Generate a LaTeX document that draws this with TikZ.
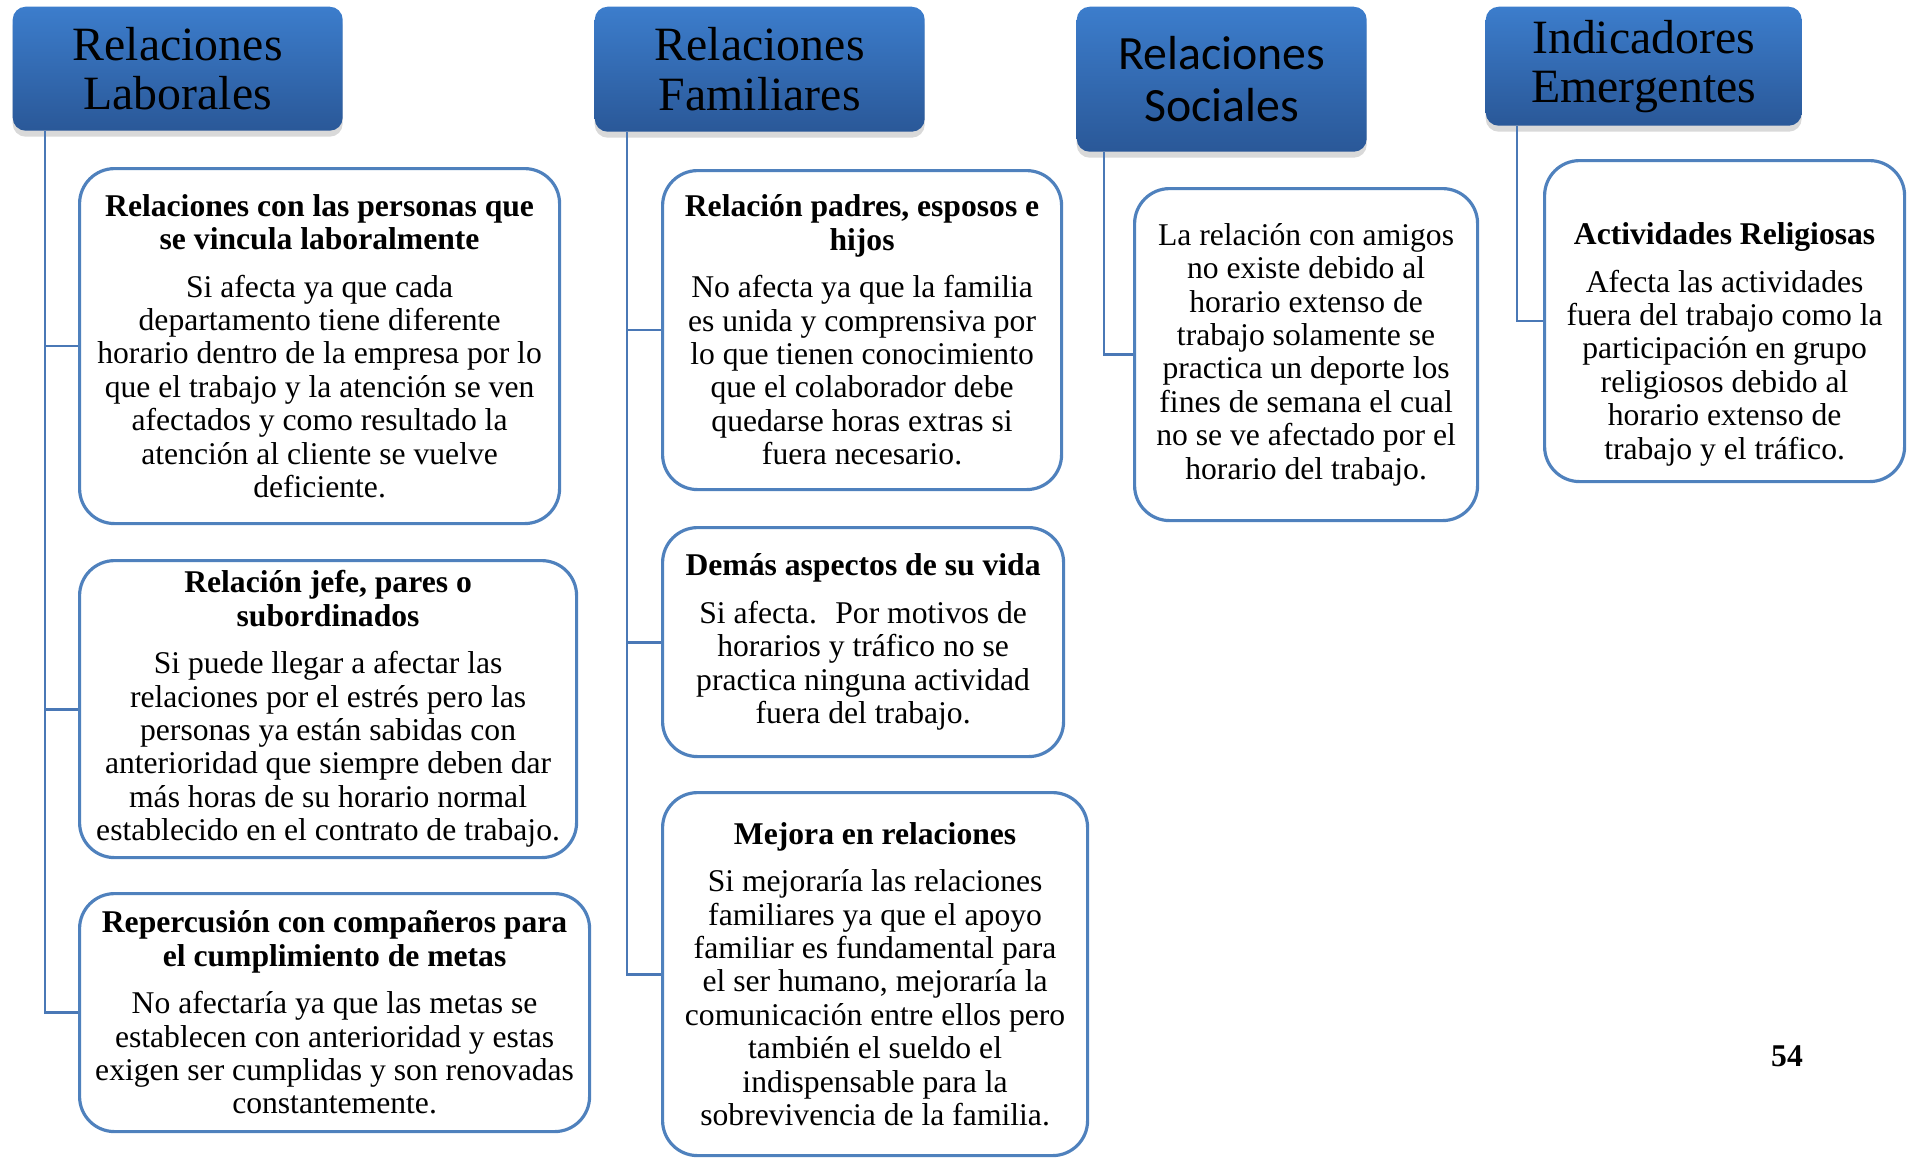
\documentclass[tikz,border=0pt]{standalone}
\usepackage{fontspec}
\setmainfont{Liberation Serif}
\newfontfamily\calibrifont{Carlito}
\usepackage{tikz}
\usetikzlibrary{shadows}
\definecolor{hdrtop}{RGB}{60,125,204}
\definecolor{hdrbot}{RGB}{42,88,152}
\definecolor{boxline}{RGB}{79,129,189}
\definecolor{linkline}{RGB}{74,120,182}

\begin{document}
\begin{tikzpicture}[y=-1cm,
  header/.style={rounded corners=0.13cm, top color=hdrtop, bottom color=hdrbot, anchor=north west, align=center, inner sep=0pt,
    font=\fontsize{13.6}{14}\selectfont, drop shadow={shadow xshift=0pt, shadow yshift=-0.06cm, opacity=0.3}},
  infobox/.style={draw=boxline, line width=0.9pt, rounded corners=0.35cm, fill=white, anchor=north west, align=center, inner sep=0pt,
    font=\fontsize{9}{9.5}\selectfont},
  link/.style={draw=linkline, line width=0.8pt}]
\useasboundingbox (0,0) rectangle (19.09,11.57);
% column headers
\node[header, minimum width=3.30cm, minimum height=1.24cm] (hlab) at (0.12,0.06) {Relaciones\\Laborales};
\node[header, minimum width=3.30cm, minimum height=1.25cm] (hfam) at (5.94,0.06) {Relaciones\\Familiares};
\node[header, minimum width=2.90cm, minimum height=1.45cm, font=\calibrifont\fontsize{13.6}{14.8}\selectfont] (hsoc) at (10.76,0.06) {Relaciones\\Sociales};
\node[header, minimum width=3.16cm, minimum height=1.19cm] (hind) at (14.85,0.06) {Indicadores\\Emergentes};
% laborales
\node[infobox, minimum width=4.80cm, minimum height=3.55cm] (lab1) at (0.78,1.67) {\textbf{Relaciones con las personas que}\\\textbf{se vincula laboralmente}\\[4pt]
  Si afecta ya que cada\\departamento tiene diferente\\horario dentro de la empresa por lo\\que el trabajo y la atención se ven\\afectados y como resultado la\\atención al cliente se vuelve\\deficiente.};
\node[infobox, minimum width=4.97cm, minimum height=2.97cm] (lab2) at (0.78,5.59) {\textbf{Relación jefe, pares o}\\\textbf{subordinados}\\[4pt]
  Si puede llegar a afectar las\\relaciones por el estrés pero las\\personas ya están sabidas con\\anterioridad que siempre deben dar\\más horas de su horario normal\\establecido en el contrato de trabajo.};
\node[infobox, minimum width=5.10cm, minimum height=2.38cm] (lab3) at (0.78,8.92) {\textbf{Repercusión con compañeros para}\\\textbf{el cumplimiento de metas}\\[4pt]
  No afectaría ya que las metas se\\establecen con anterioridad y estas\\exigen ser cumplidas y son renovadas\\constantemente.};
% familiares
\node[infobox, minimum width=3.99cm, minimum height=3.19cm] (fam1) at (6.61,1.69) {\textbf{Relación padres, esposos e}\\\textbf{hijos}\\[4pt]
  No afecta ya que la familia\\es unida y comprensiva por\\lo que tienen conocimiento\\que el colaborador debe\\quedarse horas extras si\\fuera necesario.};
\node[infobox, minimum width=4.01cm, minimum height=2.29cm] (fam2) at (6.61,5.26) {\textbf{Demás aspectos de su vida}\\[4pt]
  Si afecta.~ Por motivos de\\horarios y tráfico no se\\practica ninguna actividad\\fuera del trabajo.};
\node[infobox, minimum width=4.25cm, minimum height=3.63cm] (fam3) at (6.61,7.91) {\textbf{Mejora en relaciones}\\[4pt]
  Si mejoraría las relaciones\\familiares ya que el apoyo\\familiar es fundamental para\\el ser humano, mejoraría la\\comunicación entre ellos pero\\también el sueldo el\\indispensable para la\\sobrevivencia de la familia.};
% sociales
\node[infobox, minimum width=3.43cm, minimum height=3.32cm] (soc1) at (11.33,1.87) {La relación con amigos\\no existe debido al\\horario extenso de\\trabajo solamente se\\practica un deporte los\\fines de semana el cual\\no se ve afectado por el\\horario del trabajo.};
% indicadores
\node[infobox, minimum width=3.60cm, minimum height=3.21cm] (ind1) at (15.43,1.59) {\mbox{}\\[10pt]\textbf{Actividades Religiosas}\\[4pt]
  Afecta las actividades\\fuera del trabajo como la\\participación en grupo\\religiosos debido al\\horario extenso de\\trabajo y el tráfico.};
% connectors
\draw[link] ([xshift=0.33cm]hlab.south west) |- (lab1.west);
\draw[link] ([xshift=0.33cm]hlab.south west) |- (lab2.west);
\draw[link] ([xshift=0.33cm]hlab.south west) |- (lab3.west);
\draw[link] ([xshift=0.33cm]hfam.south west) |- (fam1.west);
\draw[link] ([xshift=0.33cm]hfam.south west) |- (fam2.west);
\draw[link] ([xshift=0.33cm]hfam.south west) |- (fam3.west);
\draw[link] ([xshift=0.28cm]hsoc.south west) |- (soc1.west);
\draw[link] ([xshift=0.32cm]hind.south west) |- (ind1.west);
\node[font=\fontsize{9}{9.5}\selectfont\bfseries] (pnum) at (17.87,10.56) {54};
\end{tikzpicture}
\end{document}
